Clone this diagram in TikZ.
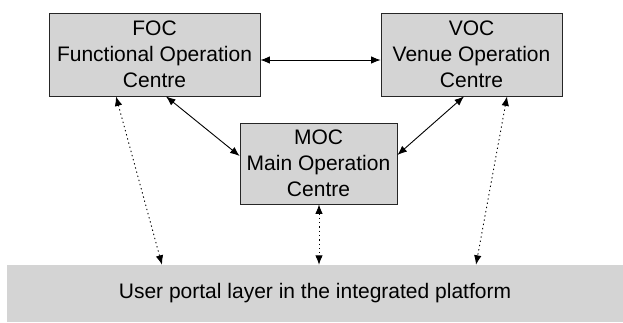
\documentclass[tikz,border=0pt]{standalone}
\usepackage{fontspec}
\setmainfont{Liberation Sans}
\usetikzlibrary{arrows.meta}
\definecolor{boxgray}{RGB}{212,212,212}
\tikzset{
  centre/.style={draw=black!85, fill=boxgray, line width=0.8pt, align=center,
    inner sep=0pt, font=\fontsize{21}{26}\selectfont},
  link/.style={line width=0.9pt, {Latex[length=9.5pt,width=7.5pt]}-{Latex[length=9.5pt,width=7.5pt]}},
  portal/.style={link, dash pattern=on 1.3pt off 3pt}
}
\begin{document}
\begin{tikzpicture}[x=1pt,y=-1pt]
                \useasboundingbox (0,0) rectangle (623,322);
                \node[centre, minimum width=211pt, minimum height=83pt] (foc) at (154.5,54.5) {FOC\\Functional Operation\\Centre};
                \node[centre, minimum width=181pt, minimum height=83pt] (voc) at (471.5,54.5) {VOC\\Venue Operation\\Centre};
                \node[centre, minimum width=157pt, minimum height=81pt] (moc) at (318.5,163.5) {MOC\\Main Operation\\Centre};
                \node[fill=boxgray, minimum width=616pt, minimum height=57pt, inner sep=0pt,
                      font=\fontsize{21}{26}\selectfont] (layer) at (315,293.5) {User portal layer in the integrated platform};
                \draw[link] ([yshift=-5.5pt]foc.east) -- ([yshift=-5.5pt]voc.west);
                \draw[link] ([xshift=11.5pt]foc.south) -- ([yshift=7.5pt]moc.west);
                \draw[link] ([xshift=-7.5pt]voc.south) -- ([yshift=8.5pt]moc.east);
                \draw[portal] ([xshift=-38.5pt]foc.south) -- ([xshift=-153pt]layer.north);
                \draw[portal] ([xshift=0.5pt]moc.south) -- ([xshift=4pt]layer.north);
                \draw[portal] ([xshift=35.5pt]voc.south) -- ([xshift=161pt]layer.north);
\end{tikzpicture}
\end{document}
